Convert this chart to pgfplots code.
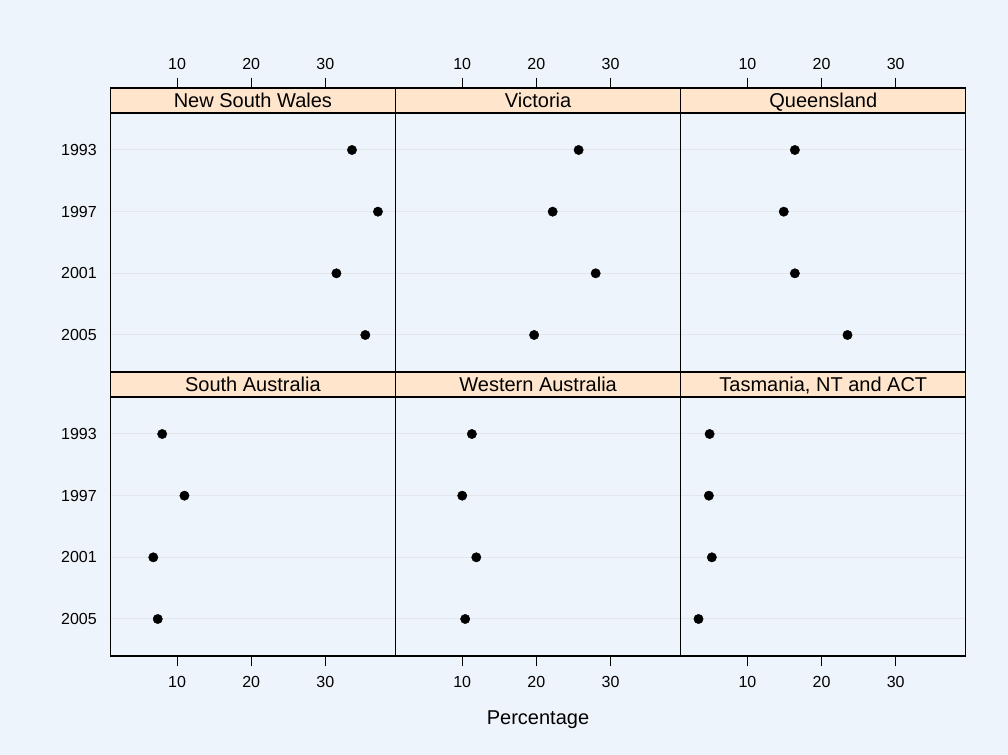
\documentclass[border=0pt]{standalone}
\usepackage{fontspec}
\setmainfont{Liberation Sans}
\usepackage{pgfplots}
\pgfplotsset{compat=1.18}
\definecolor{bgcol}{HTML}{EEF4FB}
\definecolor{stripcol}{HTML}{FFE5CC}
\definecolor{gridcol}{HTML}{E3E6EA}
\newcommand{\tickfont}{\fontsize{16bp}{19bp}\selectfont}
\newcommand{\bigfont}{\fontsize{20bp}{24bp}\selectfont}
\pgfplotsset{
  panel/.style={
    scale only axis, width=285.2bp, height=259bp,
    xmin=1.0, xmax=39.47, ymin=0.4, ymax=4.6, y dir=reverse,
    ytick={1,2,3,4}, yticklabels={},
    ymajorgrids, y grid style={gridcol, line width=1bp},
    xtick=\empty,
    axis line style={line width=1.1bp},
    y tick style={draw=none},
    x tick style={black, line width=1bp},
    major tick length=10bp, tick align=outside,
    tick label style={font=\tickfont},
    /pgf/number format/assume math mode=true,
    anchor=north west,
  },
  leftcol/.style={yticklabels={1993,1997,2001,2005}},
  bottomrow/.style={xtick={10,20,30}, xtick pos=left, xticklabel pos=left,
    xticklabel style={yshift=-7bp}},
  strip/.style={
    scale only axis, width=285.2bp, height=25bp,
    xmin=1.0, xmax=39.47, ymin=0, ymax=1,
    ytick=\empty, xtick=\empty,
    axis background/.style={fill=stripcol},
    axis line style={line width=1.1bp},
    x tick style={black, line width=1bp},
    major tick length=10bp, tick align=outside,
    tick label style={font=\tickfont},
    /pgf/number format/assume math mode=true,
    anchor=south west,
  },
  striptop/.style={xtick={10,20,30}, xtick pos=right, xticklabel pos=right,
    xticklabel style={yshift=5bp}},
  dots/.style={only marks, mark=*, mark size=4.7bp, black},
}
\newcommand{\striplabel}[1]{\node[font=\bigfont, anchor=base] at ([yshift=5bp]rel axis cs:0.5,0) {#1};}
\begin{document}
\begin{tikzpicture}
\fill[bgcol] (0,0) rectangle (1008bp,755bp);
% ---------- top row ----------
\begin{axis}[panel, leftcol, at={(110.3bp,642bp)}]
\addplot[dots] coordinates {(33.6,1) (37.1,2) (31.5,3) (35.4,4)};
\end{axis}
\begin{axis}[strip, striptop, at={(110.3bp,642bp)}]
\striplabel{New South Wales}
\end{axis}
\begin{axis}[panel, at={(395.5bp,642bp)}]
\addplot[dots] coordinates {(25.7,1) (22.2,2) (28.0,3) (19.7,4)};
\end{axis}
\begin{axis}[strip, striptop, at={(395.5bp,642bp)}]
\striplabel{Victoria}
\end{axis}
\begin{axis}[panel, at={(680.7bp,642bp)}]
\addplot[dots] coordinates {(16.4,1) (14.9,2) (16.4,3) (23.5,4)};
\end{axis}
\begin{axis}[strip, striptop, at={(680.7bp,642bp)}]
\striplabel{Queensland}
\end{axis}
% ---------- bottom row ----------
\begin{axis}[panel, leftcol, bottomrow, at={(110.3bp,358bp)}]
\addplot[dots] coordinates {(8.0,1) (11.0,2) (6.8,3) (7.4,4)};
\end{axis}
\begin{axis}[strip, at={(110.3bp,358bp)}]
\striplabel{South Australia}
\end{axis}
\begin{axis}[panel, bottomrow, at={(395.5bp,358bp)}]
\addplot[dots] coordinates {(11.3,1) (10.0,2) (11.9,3) (10.4,4)};
\end{axis}
\begin{axis}[strip, at={(395.5bp,358bp)}]
\striplabel{Western Australia}
\end{axis}
\begin{axis}[panel, bottomrow, at={(680.7bp,358bp)}]
\addplot[dots] coordinates {(4.9,1) (4.8,2) (5.2,3) (3.4,4)};
\end{axis}
\begin{axis}[strip, at={(680.7bp,358bp)}]
\striplabel{Tasmania, NT and ACT}
\end{axis}
\node[font=\bigfont] at (538bp,35bp) {Percentage};
\end{tikzpicture}
\end{document}
